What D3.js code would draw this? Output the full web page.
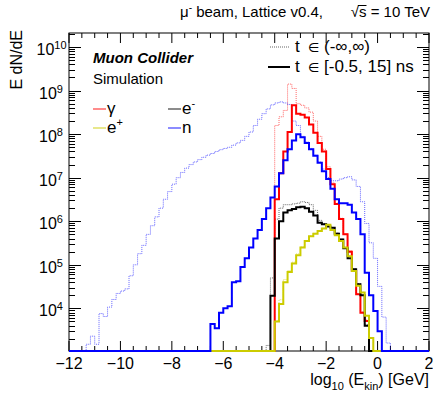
<!DOCTYPE html>
<html><head><meta charset="utf-8">
<script src="https://cdn.jsdelivr.net/npm/d3@7"></script>
<style>
body{margin:0;background:#fff;}
text{font-family:"Liberation Sans",Arial,Helvetica,sans-serif;fill:#000;}
</style></head><body>
<svg id="c" width="433" height="393"></svg>
<script>
// ---- binning (log10 Ekin / GeV) ----
const binLow = -12, binWidth = 1/6, nBins = 84;

// ---- data: E dN/dE per bin, first bin index given by *Start ----
const gammaAllStart = 48;
const gammaAll = [1.58e8, 2.5e8, 3.5e8, 1.41e9, 1.12e9,
  5.0e8, 4.6e8, 4.0e8, 3.2e8, 2.0e8,
  8.9e7, 4.5e7, 1.78e7, 7.6e6, 2.6e6,
  1.17e6, 5.2e5, 2.1e5, 7.6e4, 2.2e4,
  8.3e3, 5.4e3];
const gammaWinStart = 48;
const gammaWin = [3.2e6, 1.26e7, 4.0e7, 1.12e8, 4.6e8,
  2.95e8, 2.8e8, 2.4e8, 1.66e8, 1.07e8,
  6.3e7, 4.0e7, 1.58e7, 7.1e6, 2.5e6,
  1.12e6, 5.0e5, 2.0e5, 7.2e4, 2.1e4,
  7.9e3, 5.1e3];
const eMinusAllStart = 46;
const eMinusAll = [1.41e3, 5.0e4, 1.12e6, 2.0e6, 2.4e6,
  2.4e6, 2.5e6, 2.6e6, 2.8e6, 2.7e6,
  2.4e6, 1.78e6, 1.05e6, 8.9e5, 7.9e5,
  7.2e5, 5.4e5, 3.9e5, 2.45e5, 1.45e5,
  8.1e4, 3.7e4, 2.05e4, 4.2e3];
const eMinusWinStart = 47;
const eMinusWin = [1.95e4, 4.0e5, 1.0e6, 1.58e6, 1.78e6,
  1.91e6, 2.1e6, 2.14e6, 2.0e6, 1.66e6,
  1.35e6, 9.3e5, 8.5e5, 7.6e5, 7.1e5,
  5.2e5, 3.8e5, 2.4e5, 1.41e5, 7.9e4,
  3.6e4, 2.0e4, 4.0e3];
const ePlusAllStart = 48;
const ePlusAll = [5.2e3, 1.58e4, 4.6e4, 7.4e4, 1.15e5,
  1.78e5, 2.6e5, 3.6e5, 4.6e5, 5.3e5,
  6.1e5, 6.9e5, 8.4e5, 6.4e5, 4.9e5,
  3.55e5, 2.55e5, 1.6e5, 7.3e4, 3.35e4,
  2.35e4, 6.9e3, 2.15e3];
const ePlusWinStart = 48;
const ePlusWin = [5.0e3, 1.26e4, 4.0e4, 6.8e4, 1.07e5,
  1.66e5, 2.5e5, 3.5e5, 4.5e5, 5.2e5,
  6.0e5, 6.8e5, 8.3e5, 6.3e5, 4.8e5,
  3.5e5, 2.5e5, 1.58e5, 7.2e4, 3.3e4,
  2.3e4, 6.8e3, 2.1e3];
const neutronAllStart = 4;
const neutronAll = [1.5e3, 2.3e3, 1.5e3, 7.6e3, 6.5e3,
  1.07e4, 1.6e4, 2.2e4, 2.5e4, 2.8e4,
  5.6e4, 1.0e5, 1.8e5, 2.8e5, 5.0e5,
  7.9e5, 1.26e6, 2.0e6, 3.2e6, 4.8e6,
  7.1e6, 1.0e7, 1.32e7, 1.66e7, 2.0e7,
  2.3e7, 2.6e7, 2.95e7, 3.3e7, 3.6e7,
  4.0e7, 4.4e7, 4.7e7, 5.0e7, 5.6e7,
  6.3e7, 7.2e7, 8.9e7, 1.12e8, 1.58e8,
  2.2e8, 2.95e8, 3.8e8, 4.7e8, 5.2e8,
  5.5e8, 5.2e8, 4.8e8, 2.0e8, 1.58e8,
  8.9e7, 6.6e7, 4.7e7, 3.3e7, 2.3e7,
  1.58e7, 1.0e7, 8.5e6, 8.5e6, 9.3e6,
  1.0e7, 1.05e7, 8.9e6, 6.3e6, 2.8e6,
  8.9e5, 3.2e5, 1.41e5, 3.2e4, 6.3e3,
  1.6e3];
const neutronWinStart = 33;
const neutronWin = [4.4e3, 3.5e3, 7.9e3, 1.0e4, 1.12e4,
  4.0e4, 4.2e4, 8.9e4, 1.41e5, 2.5e5,
  4.0e5, 6.3e5, 1.12e6, 2.0e6, 3.5e6,
  6.3e6, 1.26e7, 2.5e7, 4.5e7, 7.1e7,
  1.0e8, 8.5e7, 6.3e7, 4.5e7, 3.2e7,
  2.2e7, 1.41e7, 9.3e6, 5.6e6, 3.2e6,
  2.6e6, 2.6e6, 2.4e6, 1.58e6, 1.12e6,
  5.0e5, 6.6e4, 2.0e4, 8.7e3, 3.0e3];

// ---- labels / ticks ----
const particleLabels = ["γ", "e", "e", "n"];
const xMajorTicks = [-12, -10, -8, -6, -4, -2, 0, 2];
const yLabelExponents = [4, 5, 6, 7, 8, 9, 10];

// ---- layout ----
const svg = d3.select('#c');
const L = 69, R = 429, T = 33, B = 351;
const x = d3.scaleLinear().domain([-12, 2]).range([L, R]);
const y = d3.scaleLog().domain([1.05e3, 2.1e10]).range([B, T]);
const colors = {red: "#ff0000", black: "#000000", yellow: "#cccc00", blue: "#0000ff"};

// frame
svg.append('rect').attr('x', L).attr('y', T).attr('width', R - L).attr('height', B - T)
  .attr('fill', 'none').attr('stroke', '#000').attr('stroke-width', 1);

// x ticks
const xMinor = d3.range(-12, 2.001, 0.5).filter(v => !xMajorTicks.includes(v));
function xTicks(vals, len) {
  vals.forEach(v => {
    svg.append('line').attr('x1', x(v)).attr('x2', x(v)).attr('y1', B).attr('y2', B - len).attr('stroke', '#000');
    svg.append('line').attr('x1', x(v)).attr('x2', x(v)).attr('y1', T).attr('y2', T + len).attr('stroke', '#000');
  });
}
xTicks(xMajorTicks, 10);
xTicks(xMinor, 5);
xMajorTicks.forEach(v => {
  svg.append('text').attr('x', x(v)).attr('y', 369).attr('text-anchor', 'middle')
    .attr('font-size', 16).text(v < 0 ? '\u2212' + Math.abs(v) : String(v));
});

// y ticks (log)
const yMajor = [], yMinorV = [];
for (let e = 3; e <= 10; e++) {
  for (let m = 1; m <= 9; m++) {
    const v = m * Math.pow(10, e);
    if (v < y.domain()[0] || v > y.domain()[1]) continue;
    (m === 1 ? yMajor : yMinorV).push(v);
  }
}
function yTicks(vals, len) {
  vals.forEach(v => {
    const yy = Math.round(y(v)) + 0.5;
    svg.append('line').attr('x1', L).attr('x2', L + len).attr('y1', yy).attr('y2', yy).attr('stroke', '#000');
    svg.append('line').attr('x1', R).attr('x2', R - len).attr('y1', yy).attr('y2', yy).attr('stroke', '#000');
  });
}
yTicks(yMajor, 12);
yTicks(yMinorV, 6);
yLabelExponents.forEach(e => {
  const yy = y(Math.pow(10, e));
  const t = svg.append('text').attr('x', e >= 10 ? 36.5 : 39).attr('y', yy + 8).attr('font-size', 16);
  t.append('tspan').text('10');
  t.append('tspan').attr('font-size', 11).attr('dy', -6).text(String(e));
});

// histograms
function histPath(start, vals) {
  let d = '';
  for (let k = 0; k < nBins; k++) {
    const v = (k >= start && k < start + vals.length) ? vals[k - start] : 0;
    const yy = v > 0 ? Math.min(B, y(v)) : B;
    const x0 = x(binLow + k * binWidth), x1 = x(binLow + (k + 1) * binWidth);
    d += (k === 0 ? `M${x0},${yy}` : `L${x0},${yy}`) + `L${x1},${yy}`;
  }
  return d;
}
svg.append('clipPath').attr('id', 'clip').append('rect').attr('x', L).attr('y', T).attr('width', R - L).attr('height', B - T + 1);
const g = svg.append('g').attr('clip-path', 'url(#clip)');
const dotted = [
  [gammaAllStart, gammaAll, colors.red],
  [eMinusAllStart, eMinusAll, colors.black],
  [ePlusAllStart, ePlusAll, colors.yellow],
  [neutronAllStart, neutronAll, colors.blue]
];
const solid = [
  [gammaWinStart, gammaWin, colors.red],
  [eMinusWinStart, eMinusWin, colors.black],
  [ePlusWinStart, ePlusWin, colors.yellow],
  [neutronWinStart, neutronWin, colors.blue]
];
dotted.forEach(([s, v, c]) => {
  g.append('path').attr('d', histPath(s, v)).attr('fill', 'none').attr('stroke', c)
    .attr('stroke-width', 1).attr('stroke-dasharray', '1,1').attr('opacity', 0.6);
});
solid.forEach(([s, v, c]) => {
  g.append('path').attr('d', histPath(s, v)).attr('fill', 'none').attr('stroke', c)
    .attr('stroke-width', 2);
});

// axis titles
svg.append('text').attr('transform', 'translate(22,30) rotate(-90)')
  .attr('text-anchor', 'end').attr('font-size', 16).text('E dN/dE');
const xt = svg.append('text').attr('x', 429).attr('y', 385).attr('text-anchor', 'end').attr('font-size', 16);
xt.append('tspan').text('log');
xt.append('tspan').attr('font-size', 11).attr('dy', 5).text('10');
xt.append('tspan').attr('dy', -5).text(' (E');
xt.append('tspan').attr('font-size', 11).attr('dy', 5).text('kin');
xt.append('tspan').attr('dy', -5).text(') [GeV]');

// title
const tt = svg.append('text').attr('x', 180).attr('y', 17).attr('font-size', 15);
tt.append('tspan').text('\u03bc');
tt.append('tspan').attr('font-size', 10).attr('dy', -6).text('-');
tt.append('tspan').attr('dy', 6).text(' beam, Lattice v0.4,');
const rt = svg.append('text').attr('x', 430).attr('y', 17).attr('font-size', 15).attr('text-anchor', 'end')
  .text('\u221as = 10 TeV');
{
  const node = rt.node();
  const tot = node.getComputedTextLength();
  const s0 = 430 - tot;
  const wr = node.getSubStringLength(0, 1), ws = node.getSubStringLength(1, 1);
  svg.append('line').attr('x1', s0 + wr - 1).attr('x2', s0 + wr + ws).attr('y1', 5.5).attr('y2', 5.5)
    .attr('stroke', '#000').attr('stroke-width', 1);
}

// Muon Collider label
svg.append('text').attr('x', 93).attr('y', 63).attr('font-size', 15).attr('font-weight', 'bold')
  .attr('font-style', 'italic').text('Muon Collider');
svg.append('text').attr('x', 93).attr('y', 84).attr('font-size', 15).text('Simulation');

// particle legend
const legItems = [
  {lx: 93, ly: 109, c: colors.red, label: particleLabels[0], sup: null},
  {lx: 168, ly: 109, c: colors.black, label: particleLabels[1], sup: '-'},
  {lx: 93, ly: 128, c: colors.yellow, label: particleLabels[2], sup: '+'},
  {lx: 168, ly: 128, c: colors.blue, label: particleLabels[3], sup: null}
];
legItems.forEach(it => {
  svg.append('line').attr('x1', it.lx).attr('x2', it.lx + 13).attr('y1', it.ly).attr('y2', it.ly)
    .attr('stroke', it.c).attr('stroke-width', 1.5).attr('opacity', 0.6);
  const t = svg.append('text').attr('x', it.lx + 14).attr('y', it.ly + 5).attr('font-size', 17);
  t.append('tspan').text(it.label);
  if (it.sup) t.append('tspan').attr('font-size', 11).attr('dy', -7).text(it.sup);
});

// time legend
function timeEntry(yBase, rest) {
  svg.append('text').attr('x', 295).attr('y', yBase).attr('font-size', 17).text('t');
  const t = svg.append('text').attr('x', 308).attr('y', yBase).attr('font-size', 17);
  t.append('tspan').attr('font-size', 13).attr('font-family', 'DejaVu Sans').text('\u2208');
  t.append('tspan').text(rest);
}
svg.append('line').attr('x1', 270).attr('x2', 290).attr('y1', 47).attr('y2', 47)
  .attr('stroke', '#000').attr('stroke-width', 1).attr('stroke-dasharray', '1,1').attr('opacity', 0.6);
timeEntry(52, ' (-\u221e,\u221e)');
svg.append('line').attr('x1', 268).attr('x2', 290).attr('y1', 67).attr('y2', 67)
  .attr('stroke', '#000').attr('stroke-width', 2);
timeEntry(72, ' [-0.5, 15] ns');
</script>
</body></html>
